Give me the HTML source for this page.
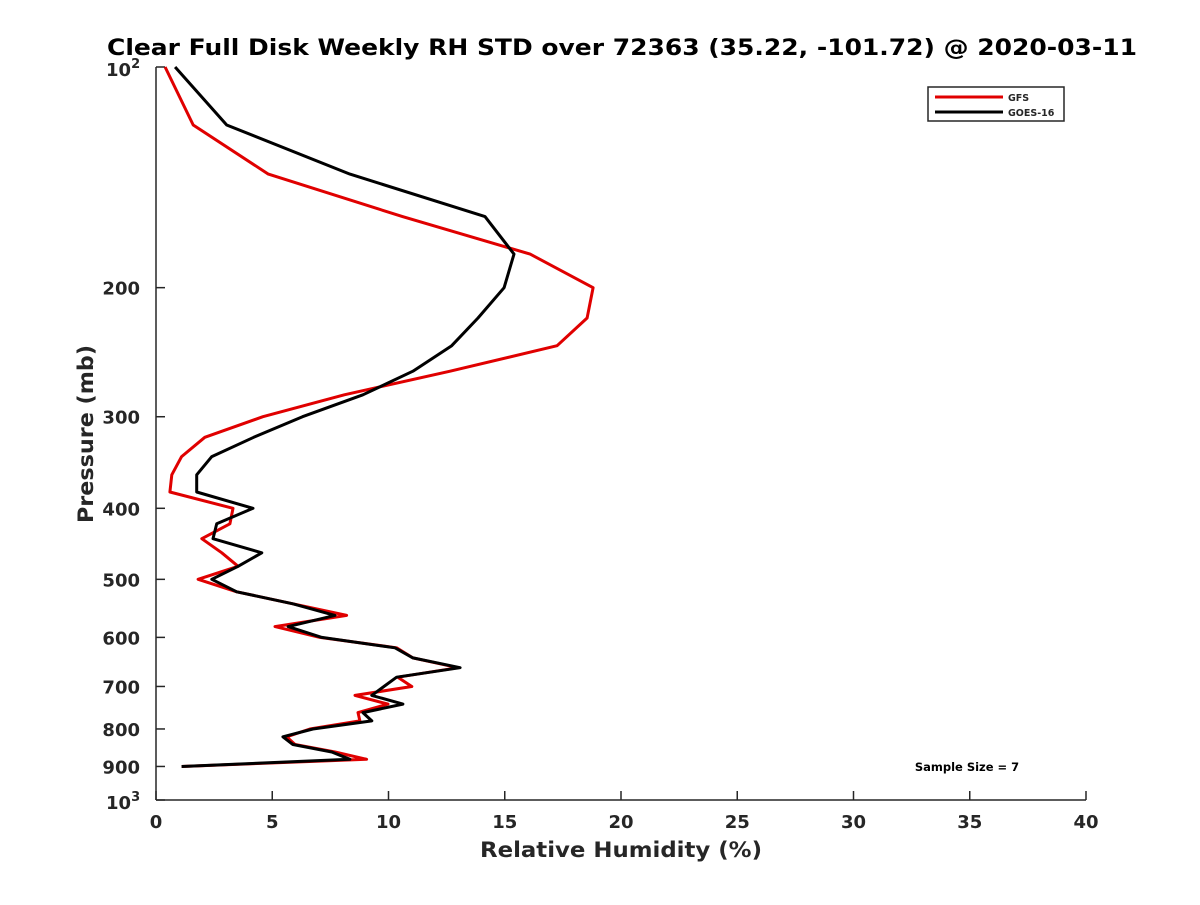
<!DOCTYPE html>
<html><head><meta charset="utf-8"><style>
body{margin:0;background:#fff;}
svg text{font-family:"DejaVu Sans","Liberation Sans",sans-serif;font-weight:bold;fill:#262626;}
</style></head><body>
<svg id="chart" width="1200" height="900" xmlns="http://www.w3.org/2000/svg">
<text x="107" y="55" textLength="1030" lengthAdjust="spacingAndGlyphs" font-size="22" style="fill:#000">Clear Full Disk Weekly RH STD over 72363 (35.22, -101.72) @ 2020-03-11</text>
<g id="axes"></g>
<g id="series"></g>
<text x="480" y="857" textLength="282" lengthAdjust="spacingAndGlyphs" font-size="21">Relative Humidity (%)</text>
<text transform="translate(93,523) rotate(-90)" textLength="178" lengthAdjust="spacingAndGlyphs" font-size="21">Pressure (mb)</text>
<g>
<rect x="928" y="87" width="136" height="34" fill="#fff" stroke="#262626" stroke-width="1.5"/>
<line x1="935" y1="97" x2="1003" y2="97" stroke="#e00000" stroke-width="3"/>
<text x="1008" y="101" font-size="9.5">GFS</text>
<line x1="935" y1="112" x2="1003" y2="112" stroke="#000" stroke-width="3"/>
<text x="1008" y="116" font-size="9.5">GOES-16</text>
</g>
<text x="967" y="771" text-anchor="middle" font-size="11.5" style="fill:#000">Sample Size = 7</text>
</svg>
<script>
const pressures=[100,120,140,160,180,200,220,240,260,280,300,320,340,360,380,400,420,440,460,480,500,520,540,560,580,600,620,640,660,680,700,720,740,760,780,800,820,840,860,880,900];
const gfsValues=[0.39,1.6,4.83,10.6,16.09,18.8,18.54,17.25,12.65,8.1,4.6,2.1,1.1,0.68,0.6,3.31,3.18,1.97,2.83,3.53,1.81,3.47,5.89,8.2,5.12,7.05,10.35,11.05,12.99,10.4,11.0,8.56,9.98,8.69,8.77,6.62,5.62,5.98,7.7,9.06,1.1];
const goesValues=[0.82,3.04,8.34,14.15,15.4,14.97,13.85,12.72,11.05,8.9,6.3,4.2,2.4,1.75,1.75,4.17,2.61,2.45,4.55,3.53,2.4,3.47,5.89,7.7,5.68,7.13,10.28,11.05,13.08,10.35,9.8,9.28,10.62,8.9,9.28,6.75,5.46,5.89,7.56,8.34,1.1];
const xTicks=[0,5,10,15,20,25,30,35,40];
const yTicks=[200,300,400,500,600,700,800,900];
const NS='http://www.w3.org/2000/svg';
const X0=156,X1=1086,Y0=67,Y1=800;
function xs(v){return X0+(v-0)/40*(X1-X0);}
function ys(p){return Y0+Math.log10(p/100)*(Y1-Y0);}
function mk(tag,attrs,parent){const e=document.createElementNS(NS,tag);for(const k in attrs)e.setAttribute(k,attrs[k]);parent.appendChild(e);return e;}
const ax=document.getElementById('axes');
let l=mk('line',{x1:X0,y1:Y0,x2:X0,y2:Y1,stroke:'#262626','stroke-width':1.5},ax);


l=mk('line',{x1:X0,y1:Y1,x2:X1,y2:Y1,stroke:'#262626','stroke-width':1.5},ax);


xTicks.forEach(t=>{
 const x=xs(t);
 mk('line',{x1:x,y1:Y1,x2:x,y2:Y1-9,stroke:'#262626','stroke-width':1.5},ax);
 const tx=mk('text',{x:x,y:Y1+28,'text-anchor':'middle','font-size':18},ax);
 tx.textContent=t;
 
 
});
[100,1000].concat(yTicks).forEach(p=>{
 const y=ys(p);
 mk('line',{x1:X0,y1:y,x2:X0+9,y2:y,stroke:'#262626','stroke-width':1.5},ax);
});
yTicks.forEach(p=>{
 const tx=mk('text',{x:X0-16,y:ys(p)+7,'text-anchor':'end','font-size':18},ax);
 tx.textContent=p;
 
 
});
[[100,'2'],[1000,'3']].forEach(([p,e])=>{
 const tx=mk('text',{x:X0-50,y:ys(p)+9,'font-size':18},ax);
 tx.innerHTML='10<tspan dy="-8" font-size="13">'+e+'</tspan>';
 
 
});
const sg=document.getElementById('series');
function drawLine(vals,color,name){
 const pts=vals.map((v,i)=>xs(v).toFixed(1)+','+ys(pressures[i]).toFixed(1)).join(' ');
 const pl=mk('polyline',{points:pts,fill:'none',stroke:color,'stroke-width':3,'stroke-linejoin':'round'},sg);
 
 
}
drawLine(gfsValues,'#e00000','gfs-line');
drawLine(goesValues,'#000000','goes16-line');
</script>
</body></html>
